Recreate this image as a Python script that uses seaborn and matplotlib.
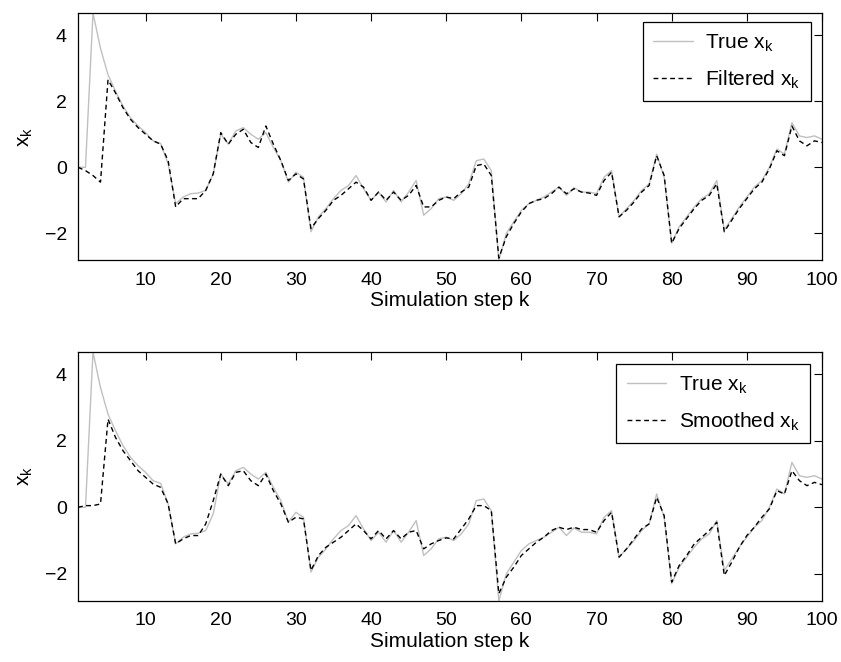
import numpy as np
import pandas as pd
import matplotlib
matplotlib.use('Agg')
import matplotlib.pyplot as plt
import seaborn as sns

# --- Configuration ---
OUTPUT_FILE = 'out.png'
FIG_W, FIG_H, DPI = 8.41, 6.62, 100

# --- Data ---
steps = np.arange(1, 101)

true_x = [
    0.0, 0.0, 4.67, 3.6, 2.8, 2.3, 1.85, 1.5, 1.25, 1.05,
    0.8, 0.72, 0.1, -1.1, -0.9, -0.8, -0.78, -0.7, -0.2, 1.0,
    0.7, 1.1, 1.2, 1.0, 0.85, 1.05, 0.6, 0.2, -0.45, -0.15,
    -0.3, -1.95, -1.5, -1.25, -0.95, -0.7, -0.55, -0.25, -0.65, -1.0,
    -0.75, -1.05, -0.7, -1.05, -0.75, -0.4, -1.45, -1.25, -0.95, -0.9,
    -1.0, -0.8, -0.5, 0.2, 0.25, -0.1, -2.82, -2.0, -1.65, -1.3,
    -1.1, -1.0, -0.9, -0.75, -0.6, -0.85, -0.62, -0.75, -0.75, -0.8,
    -0.3, -0.1, -1.5, -1.25, -1.0, -0.7, -0.5, 0.4, -0.3, -2.3,
    -1.8, -1.5, -1.2, -0.95, -0.8, -0.4, -1.9, -1.55, -1.2, -0.9,
    -0.6, -0.4, 0.0, 0.55, 0.4, 1.35, 0.95, 0.9, 0.95, 0.85,
]

filtered_x = [
    0.0, -0.1, -0.25, -0.45, 2.65, 2.25, 1.8, 1.45, 1.2, 1.0,
    0.8, 0.7, 0.2, -1.2, -0.95, -0.95, -0.95, -0.7, -0.2, 1.05,
    0.7, 1.0, 1.15, 0.75, 0.6, 1.25, 0.7, 0.2, -0.4, -0.2,
    -0.35, -1.85, -1.55, -1.3, -1.0, -0.85, -0.65, -0.45, -0.6, -1.0,
    -0.75, -1.0, -0.75, -1.0, -0.85, -0.55, -1.2, -1.2, -1.0, -0.9,
    -0.95, -0.75, -0.6, 0.05, 0.1, -0.25, -2.75, -2.1, -1.7, -1.35,
    -1.1, -1.0, -0.95, -0.8, -0.6, -0.8, -0.65, -0.75, -0.78, -0.85,
    -0.4, -0.15, -1.5, -1.3, -1.05, -0.75, -0.55, 0.35, -0.25, -2.3,
    -1.85, -1.55, -1.25, -1.0, -0.85, -0.5, -1.95, -1.6, -1.25, -0.95,
    -0.65, -0.45, -0.05, 0.5, 0.35, 1.25, 0.8, 0.65, 0.8, 0.75,
]

smoothed_x = [
    0.0, 0.05, 0.05, 0.1, 2.65, 2.1, 1.7, 1.4, 1.1, 0.9,
    0.7, 0.6, 0.1, -1.1, -0.95, -0.85, -0.85, -0.5, 0.2, 1.0,
    0.65, 1.05, 1.1, 0.8, 0.65, 1.0, 0.5, 0.1, -0.45, -0.3,
    -0.35, -1.9, -1.45, -1.2, -1.05, -0.9, -0.7, -0.5, -0.7, -0.95,
    -0.7, -0.95, -0.7, -0.95, -0.75, -0.7, -1.25, -1.1, -1.0, -0.92,
    -0.95, -0.65, -0.35, 0.05, 0.05, -0.1, -2.6, -2.1, -1.8, -1.45,
    -1.25, -1.05, -0.9, -0.7, -0.6, -0.67, -0.6, -0.67, -0.67, -0.75,
    -0.4, -0.15, -1.5, -1.25, -0.95, -0.65, -0.5, 0.3, -0.25, -2.25,
    -1.75, -1.45, -1.1, -0.9, -0.7, -0.45, -2.05, -1.65, -1.2, -0.85,
    -0.6, -0.3, -0.05, 0.5, 0.4, 1.1, 0.8, 0.65, 0.75, 0.68,
]

x_ticks = [10, 20, 30, 40, 50, 60, 70, 80, 90, 100]
y_ticks = [-2, 0, 2, 4]

TRUE_COLOR = '#c0c0c0'
EST_COLOR = 'black'


def draw_panel(ax, df, est_col, est_label, legend_anchor):
    """Draw true vs estimated state on one axes, MATLAB style."""
    sns.lineplot(data=df, x='k', y='true', ax=ax, color=TRUE_COLOR,
                 linewidth=1.0, label='True $x_k$')
    sns.lineplot(data=df, x='k', y=est_col, ax=ax, color=EST_COLOR,
                 linewidth=1.0, label=est_label)
    ax.lines[-1].set_dashes((3.5, 2.5))

    # axis tight, like MATLAB
    ax.set_xlim(df['k'].min(), df['k'].max())
    y_all = pd.concat([df['true'], df[est_col]])
    ax.set_ylim(y_all.min(), y_all.max())

    ax.set_xticks(x_ticks)
    ax.set_yticks(y_ticks)
    ax.tick_params(direction='in', length=5.8, width=0.8, top=True, right=True,
                   labelsize=14, pad=8, colors='black')
    for sp in ax.spines.values():
        sp.set_visible(True)
        sp.set_color('black')
        sp.set_linewidth(0.9)

    ax.set_xlabel('Simulation step k', fontsize=15, labelpad=2, color='black')
    ax.set_ylabel('$x_k$', fontsize=15, labelpad=7, color='black')

    leg = ax.legend(loc='upper right', bbox_to_anchor=legend_anchor,
                    borderaxespad=0, fontsize=15, frameon=True, fancybox=False,
                    framealpha=1, edgecolor='black', handlelength=1.9,
                    handletextpad=0.6, borderpad=0.5, labelspacing=0.7)
    leg.get_frame().set_linewidth(0.9)
    for txt in leg.get_texts():
        txt.set_color('black')
    ax.grid(False)


def main():
    sns.set_style('white')
    plt.rcParams['font.family'] = ['Liberation Sans', 'DejaVu Sans']
    plt.rcParams['text.color'] = 'black'
    plt.rcParams['mathtext.fontset'] = 'custom'
    plt.rcParams['mathtext.rm'] = 'Liberation Sans'
    plt.rcParams['mathtext.it'] = 'Liberation Sans'

    df = pd.DataFrame({'k': steps, 'true': true_x,
                       'filtered': filtered_x, 'smoothed': smoothed_x})

    fig = plt.figure(figsize=(FIG_W, FIG_H), dpi=DPI)
    ax_top = fig.add_axes([0.0927, 0.6066, 0.8847, 0.3737])
    ax_bot = fig.add_axes([0.0927, 0.0921, 0.8847, 0.3761])

    draw_panel(ax_top, df, 'filtered', 'Filtered $x_k$', (0.985, 0.964))
    draw_panel(ax_bot, df, 'smoothed', 'Smoothed $x_k$', (0.984, 0.952))

    fig.savefig(OUTPUT_FILE, dpi=DPI)
    plt.close(fig)


if __name__ == '__main__':
    main()
